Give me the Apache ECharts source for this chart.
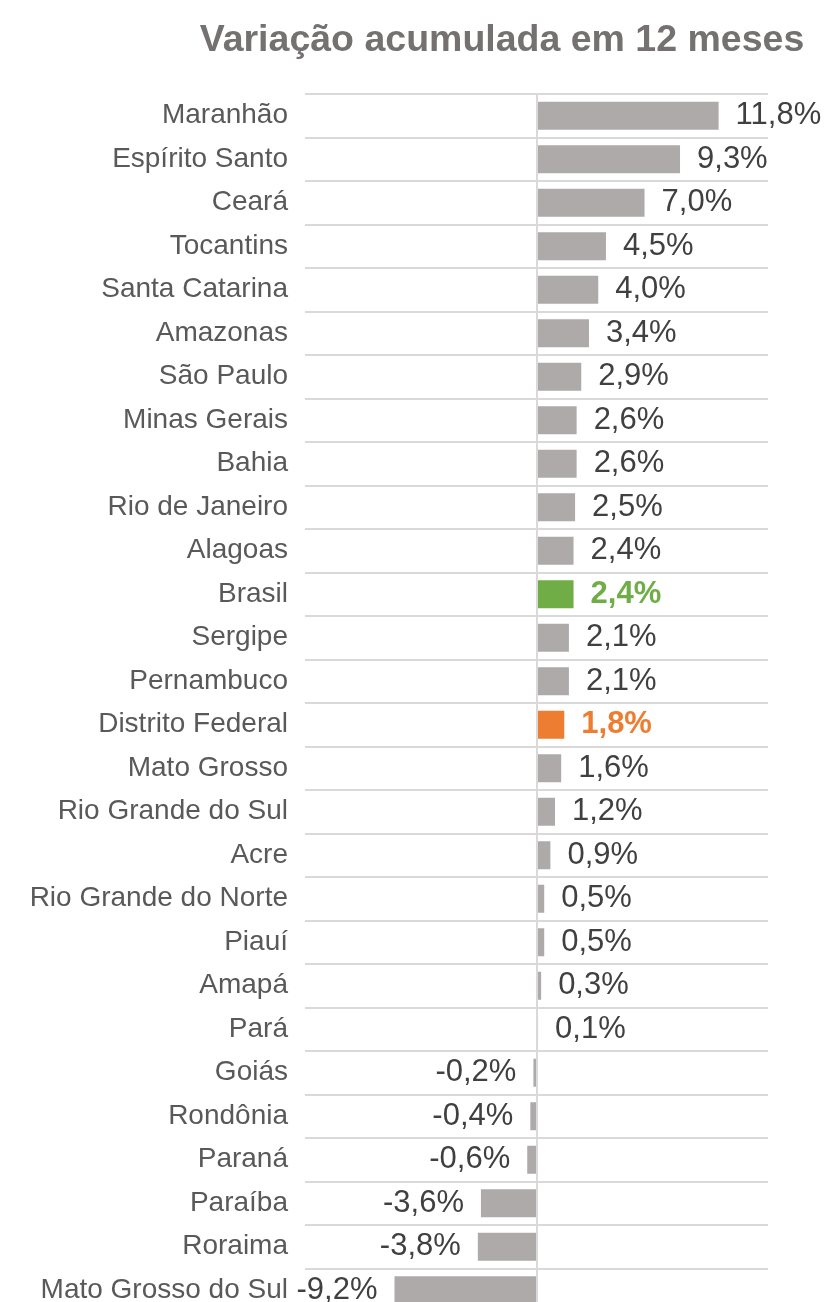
<!DOCTYPE html>
<html>
<head>
<meta charset="utf-8">
<script src="https://cdn.jsdelivr.net/npm/echarts@6/dist/echarts.min.js"></script>
<style>
  html, body { margin: 0; padding: 0; background: #fff; }
  #chart { width: 834px; height: 1302px; }
</style>
</head>
<body>
<div id="chart"></div>
<script>
// estados, de cima para baixo
const categories = ['Maranhão', 'Espírito Santo', 'Ceará', 'Tocantins', 'Santa Catarina', 'Amazonas',
  'São Paulo', 'Minas Gerais', 'Bahia', 'Rio de Janeiro', 'Alagoas', 'Brasil', 'Sergipe', 'Pernambuco',
  'Distrito Federal', 'Mato Grosso', 'Rio Grande do Sul', 'Acre', 'Rio Grande do Norte', 'Piauí',
  'Amapá', 'Pará', 'Goiás', 'Rondônia', 'Paraná', 'Paraíba', 'Roraima', 'Mato Grosso do Sul']
// variação acumulada (%)
const values = [11.8, 9.3, 7.0, 4.5, 4.0, 3.4, 2.9, 2.6, 2.6, 2.5, 2.4, 2.4, 2.1, 2.1,
  1.8, 1.6, 1.2, 0.9, 0.5, 0.5, 0.3, 0.1, -0.2, -0.4, -0.6, -3.6, -3.8, -9.2]
// destaques
const highlightNames = ['Brasil', 'Distrito Federal']
const highlightColors = ['#70AD47', '#ED7D31']

const barColor = '#AEAAAA'
const fmt = v => v.toFixed(1).replace('.', ',') + '%'

const seriesData = values.map((v, i) => {
  const h = highlightNames.indexOf(categories[i])
  const color = h >= 0 ? highlightColors[h] : barColor
  return {
    value: v,
    itemStyle: { color: color },
    label: {
      position: v < 0 ? 'left' : 'right',
      color: h >= 0 ? color : '#404040',
      fontWeight: h >= 0 ? 'bold' : 'normal'
    }
  }
})

const chart = echarts.init(document.getElementById('chart'))
chart.setOption({
  animation: false,
  title: {
    text: 'Variação acumulada em 12 meses',
    left: 497,
    top: 17,
    textAlign: 'center',
    textStyle: {
      fontFamily: 'Liberation Sans, Arial, sans-serif',
      fontSize: 37.5,
      fontWeight: 'bold',
      color: '#757171'
    }
  },
  grid: { left: 305, right: 66, top: 94, bottom: -10, outerBoundsMode: 'none' },
  xAxis: {
    type: 'value',
    min: -15,
    max: 15,
    axisLine: { show: false },
    axisTick: { show: false },
    axisLabel: { show: false },
    splitLine: { show: false }
  },
  yAxis: {
    type: 'category',
    inverse: true,
    data: categories,
    axisLine: { show: false },
    axisTick: { show: false },
    splitLine: { show: true, lineStyle: { color: '#D9D9D9', width: 2 } },
    axisLabel: {
      margin: 17,
      fontFamily: 'Liberation Sans, Arial, sans-serif',
      fontSize: 28,
      color: '#595959'
    }
  },
  series: [{
    type: 'bar',
    barWidth: 28,
    data: seriesData,
    label: {
      show: true,
      distance: 17,
      fontFamily: 'Liberation Sans, Arial, sans-serif',
      fontSize: 31,
      formatter: p => fmt(p.value)
    },
    markLine: {
      silent: true,
      symbol: 'none',
      label: { show: false },
      lineStyle: { color: '#D9D9D9', type: 'solid', width: 2 },
      data: [{ xAxis: 0 }]
    }
  }]
})
</script>
</body>
</html>
